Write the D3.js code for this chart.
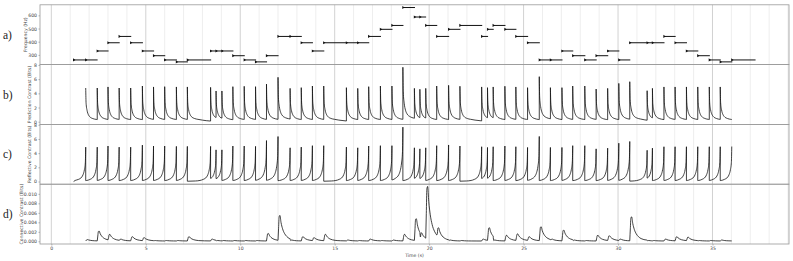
<!DOCTYPE html>
<html>
<head>
<meta charset="utf-8">
<script src="https://d3js.org/d3.v7.min.js"></script>
<style>
  body { margin: 0; background: #fff; }
</style>
</head>
<body>
<svg id="chart" width="793" height="261"></svg>
<script>
// ---- data ----
// note onsets / offsets in seconds and their pitch
const noteOnsets = [1.18, 1.82, 2.43, 3.00, 3.59, 4.20, 4.82, 5.41, 6.00, 6.62, 7.20, 8.43, 8.72, 9.03, 9.61,
  10.21, 10.81, 11.39, 12.00, 12.64, 13.23, 13.82, 14.42, 15.62, 16.22, 16.80, 17.42, 18.03, 18.61, 19.22,
  19.51, 19.82, 20.40, 21.03, 21.63, 22.78, 23.09, 23.39, 24.01, 24.59, 25.21, 25.83, 26.42, 27.03, 27.60,
  28.24, 28.84, 29.45, 30.04, 30.62, 31.54, 31.82, 32.43, 33.02, 33.62, 34.22, 34.83, 35.41, 36.02];
const noteOffsets = [1.85, 2.45, 3.03, 3.62, 4.23, 4.85, 5.44, 6.03, 6.65, 7.23, 8.46, 8.74, 9.05, 9.64, 10.24,
  10.84, 11.42, 12.03, 12.67, 13.26, 13.85, 14.45, 15.64, 16.24, 16.83, 17.45, 18.06, 18.64, 19.25, 19.53,
  19.84, 20.43, 21.06, 21.66, 22.81, 23.12, 23.42, 24.04, 24.62, 25.24, 25.86, 26.45, 27.06, 27.63, 28.27,
  28.87, 29.48, 30.07, 30.65, 31.57, 31.85, 32.46, 33.05, 33.65, 34.25, 34.86, 35.44, 36.05, 37.28];
const notePitches = ["C4","C4","E4","G4","A4","G4","E4","D4","C4","B3","C4","E4","E4","E4","D4",
  "C4","B3","D4","A4","A4","G4","E4","G4","G4","G4","A4","B4","C5","E5","D5",
  "D5","C5","A4","B4","C5","A4","B4","C5","B4","A4","G4","C4","C4","E4","D4",
  "C4","D4","E4","C4","G4","G4","G4","A4","G4","E4","D4","C4","B3","C4"];
const pitchHz = { B3: 246.9, C4: 261.6, D4: 293.7, E4: 329.6, G4: 392.0, A4: 440.0, B4: 493.9, C5: 523.3, D5: 587.3, E5: 659.3 };

// spike heights (bits) at onsets 2..58 (prediction) and 2..59 (reflective)
const predictionPeaks = [4.75, 4.75, 4.9, 4.75, 4.75, 5.03, 4.9, 4.94, 4.9, 4.9, 4.84, 4.33, 4.33, 4.94, 4.99,
  4.94, 5.3, 6.26, 4.7, 4.8, 5.03, 5.03, 4.8, 4.7, 4.94, 5.03, 5.03, 7.67, 4.7, 4.57,
  4.7, 5.03, 5.13, 5.0, 4.9, 4.8, 4.9, 5.0, 4.9, 4.8, 6.35, 4.8, 4.8, 5.03, 5.03,
  4.6, 4.7, 5.4, 5.64, 4.37, 4.7, 4.9, 4.9, 4.9, 4.9, 4.9, 4.9];
const reflectivePeaks = [4.84, 4.84, 5.0, 4.84, 4.84, 5.13, 5.0, 5.0, 4.95, 4.95, 4.95, 4.46, 4.46, 5.0, 5.0,
  4.95, 5.77, 6.34, 4.75, 4.85, 5.05, 5.05, 4.85, 4.75, 5.0, 5.05, 5.05, 7.66, 4.75, 4.6,
  4.75, 5.05, 5.15, 5.0, 4.9, 4.8, 4.9, 5.0, 4.9, 4.8, 6.35, 4.8, 4.8, 5.05, 5.05,
  4.6, 4.7, 5.4, 5.64, 4.4, 4.7, 4.9, 4.9, 4.9, 4.9, 4.9, 4.9, 4.93];
// connective contrast bump heights at onsets 2..58
const connectivePeaks = [0.0003, 0.0021, 0.0014, 0.0004, 0.0009, 0.0007, 0.0001, 0.0001, 0.0001, 0.0009,
  0.0004, 0.0001, 0.0001, 0.0001, 0.0001, 0.0001, 0.0016, 0.0054, 0.0002, 0.0009,
  0.0007, 0.0014, 0.0002, 0.0001, 0.0004, 0.0001, 0.0002, 0.0014, 0.0047, 0.0017,
  0.0115, 0.0028, 0.0002, 0.0001, 0.0004, 0.0028, 0.0002, 0.0012, 0.0015, 0.0009,
  0.003, 0.0004, 0.0023, 0.0002, 0.0001, 0.0012, 0.0011, 0.0004, 0.0051, 0.0001,
  0.0001, 0.0004, 0.0009, 0.0008, 0.0001, 0.0001, 0.0002];

// shape of one spike (seconds after / before the spike, share of the peak)
const decayOffsets = [0, 0.02, 0.07, 0.14, 0.21, 0.39, 0.56, 0.8, 1.2, 1.6, 2.4];
const decayShare   = [1, 0.55, 0.34, 0.21, 0.15, 0.09, 0.068, 0.045, 0.02, 0.008, 0];
const riseOffsets  = [0, 0.02, 0.07, 0.14, 0.21, 0.39, 0.56, 0.8, 1.2, 1.6, 2.4];
const riseShare    = [1, 0.55, 0.34, 0.2, 0.13, 0.06, 0.03, 0.015, 0.008, 0.003, 0];
const bumpOffsets  = [0, 0.03, 0.06, 0.1, 0.16, 0.24, 0.34, 0.46, 0.6, 0.9, 1.5];
const bumpShare    = [0, 0.5, 0.95, 1, 0.72, 0.48, 0.3, 0.18, 0.1, 0.04, 0];
const connectiveFloor = 0.00006;

const xTicks = [0, 5, 10, 15, 20, 25, 30, 35];
const freqTicks = [300, 400, 500, 600];
const bitTicks = [0, 2, 4, 6, 8];
const connTicks = [0, 0.002, 0.004, 0.006, 0.008, 0.010];

// ---- layout ----
const svg = d3.select("#chart");
const left = 40, right = 789;
const panelTop = [4.8, 64.6, 124.4, 184.2], panelH = 59.8;
const fs = 4.6;
const sans = "DejaVu Sans, sans-serif";

const x = d3.scaleLinear().domain([-0.6, 39.05]).range([left, right]);

const panels = [
  { letter: "a)", title: "Frequency (Hz)", domain: [226.3, 679.9], ticks: freqTicks, fmt: d3.format("d"), titleX: 25.7 },
  { letter: "b)", title: "Prediction Contrast (Bits)", domain: [-0.38, 8.05], ticks: bitTicks, fmt: d3.format("d"), titleX: 29.5 },
  { letter: "c)", title: "Reflective Contrast (Bits)", domain: [-0.38, 8.05], ticks: bitTicks, fmt: d3.format("d"), titleX: 29.5 },
  { letter: "d)", title: "Connective Contrast (Bits)", domain: [-0.00057, 0.01203], ticks: connTicks, fmt: d3.format(".3f"), titleX: 21.7 }
];

panels.forEach((p, i) => {
  const top = panelTop[i], bottom = top + panelH;
  p.y = d3.scaleLinear().domain(p.domain).range([bottom, top]);
  const g = svg.append("g");
  p.g = g;

  // vertical grid every second
  g.selectAll("line.grid")
    .data(d3.range(0, 40))
    .enter().append("line")
    .attr("x1", d => x(d)).attr("x2", d => x(d))
    .attr("y1", top).attr("y2", bottom)
    .attr("stroke", d => d % 5 === 0 ? "#cdcdcd" : "#e6e6e6")
    .attr("stroke-width", d => d % 5 === 0 ? 0.9 : 0.7);

  const ax = g.append("g")
    .attr("transform", `translate(${left},0)`)
    .call(d3.axisLeft(p.y).tickValues(p.ticks).tickFormat(p.fmt).tickSize(1.5).tickPadding(1.5));
  ax.select(".domain").remove();
  ax.selectAll("line").attr("stroke", "#666").attr("stroke-width", 0.5);
  ax.selectAll("text").style("font-size", fs + "px").style("font-family", sans).attr("fill", "#444");

  g.append("text")
    .attr("transform", `translate(${p.titleX},${(top + bottom) / 2}) rotate(-90)`)
    .attr("text-anchor", "middle")
    .attr("dy", "0.35em")
    .style("font-size", fs + "px").style("font-family", sans)
    .attr("fill", "#444")
    .text(p.title);

  svg.append("text")
    .attr("x", 3).attr("y", (top + bottom) / 2)
    .attr("dy", "0.35em")
    .style("font-family", "Liberation Serif, serif")
    .style("font-size", "11.5px")
    .attr("fill", "#222")
    .text(p.letter);
});

// x axis at the bottom
const xAx = svg.append("g")
  .attr("transform", `translate(0,${panelTop[3] + panelH})`)
  .call(d3.axisBottom(x).tickValues(xTicks).tickFormat(d3.format("d")).tickSize(1.5).tickPadding(1.5));
xAx.select(".domain").remove();
xAx.selectAll("line").attr("stroke", "#666").attr("stroke-width", 0.5);
xAx.selectAll("text").style("font-size", fs + "px").style("font-family", sans).attr("fill", "#444");
svg.append("text")
  .attr("x", (left + right) / 2).attr("y", 256.5)
  .attr("text-anchor", "middle")
  .style("font-size", fs + "px").style("font-family", sans).attr("fill", "#444")
  .text("Time (s)");

// ---- a) notes ----
const pa = panels[0];
const notes = noteOnsets.map((t, i) => ({ on: t, off: noteOffsets[i], f: pitchHz[notePitches[i]] }));
pa.g.selectAll("line.note")
  .data(notes).enter().append("line")
  .attr("x1", d => x(d.on)).attr("x2", d => x(d.off))
  .attr("y1", d => pa.y(d.f)).attr("y2", d => pa.y(d.f))
  .attr("stroke", "#111").attr("stroke-width", 1);
pa.g.selectAll("path.marker")
  .data(notes).enter().append("path")
  .attr("d", d => {
    const cx = x(d.on), cy = pa.y(d.f);
    return `M${cx - 0.6},${cy - 1.6}L${cx + 1.8},${cy}L${cx - 0.6},${cy + 1.6}Z`;
  })
  .attr("fill", "#111");

const line = (y) => d3.line().x(d => x(d[0])).y(d => y(d[1])).curve(d3.curveMonotoneX);

// ---- b) prediction contrast: spike at onset then decay ----
const pb = panels[1];
const decayAt = d3.scaleLinear().domain(decayOffsets).range(decayShare).clamp(true);
let prevEnd = null;
predictionPeaks.forEach((peak, k) => {
  const t0 = noteOnsets[k + 1], t1 = noteOnsets[k + 2];
  const dur = t1 - t0;
  const pts = decayOffsets.filter(o => o < dur).map((o, j) => [t0 + o, peak * decayShare[j]]);
  pts.push([t1, peak * decayAt(dur)]);
  let d = line(pb.y)(pts);
  if (prevEnd !== null) d = `M${x(t0)},${pb.y(prevEnd)}L` + d.slice(1);
  pb.g.append("path").attr("d", d).attr("fill", "none").attr("stroke", "#111").attr("stroke-width", 0.8);
  prevEnd = peak * decayAt(dur);
});

// ---- c) reflective contrast: build-up towards the next onset ----
const pc = panels[2];
const riseAt = d3.scaleLinear().domain(riseOffsets).range(riseShare).clamp(true);
reflectivePeaks.forEach((peak, k) => {
  const t0 = noteOnsets[k], t1 = noteOnsets[k + 1];
  const dur = t1 - t0;
  const pts = [[t0, k === 0 ? 0 : peak * riseAt(dur)]];
  riseOffsets.filter(o => o < dur).slice().reverse().forEach(o => pts.push([t1 - o, peak * riseAt(o)]));
  let d = line(pc.y)(pts);
  if (k > 0) d = `M${x(t0)},${pc.y(reflectivePeaks[k - 1])}L` + d.slice(1);
  pc.g.append("path").attr("d", d).attr("fill", "none").attr("stroke", "#111").attr("stroke-width", 0.8);
});

// ---- d) connective contrast: small bumps after onsets ----
const pd = panels[3];
const bumpAt = d3.scaleLinear().domain(bumpOffsets).range(bumpShare).clamp(true);
let prevTail = connectiveFloor;
connectivePeaks.forEach((peak, k) => {
  const t0 = noteOnsets[k + 1], t1 = noteOnsets[k + 2];
  const dur = t1 - t0;
  const pts = bumpOffsets.filter(o => o < dur).map((o, j) => [t0 + o, connectiveFloor + peak * bumpShare[j]]);
  pts[0][1] = Math.max(pts[0][1], prevTail);
  pts.push([t1, connectiveFloor + peak * bumpAt(dur)]);
  pd.g.append("path").attr("d", line(pd.y)(pts)).attr("fill", "none").attr("stroke", "#111").attr("stroke-width", 0.8);
  prevTail = connectiveFloor + peak * bumpAt(dur);
});

// panel frames on top
panelTop.forEach(top => {
  svg.append("rect")
    .attr("x", left).attr("y", top).attr("width", right - left).attr("height", panelH)
    .attr("fill", "none").attr("stroke", "#9a9a9a").attr("stroke-width", 0.8);
});
</script>
</body>
</html>
